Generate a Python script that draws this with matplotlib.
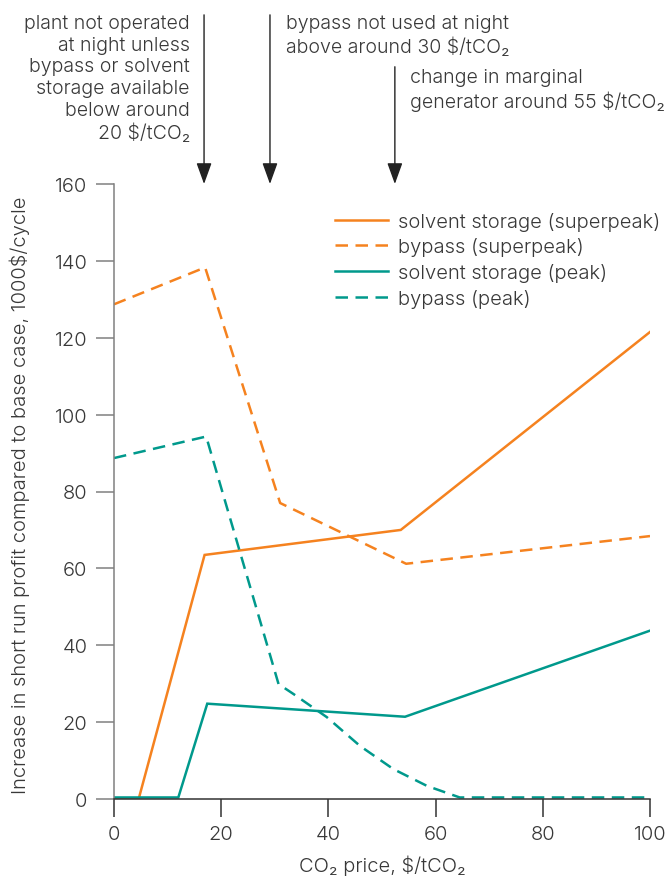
import matplotlib
matplotlib.use("Agg")
import matplotlib.pyplot as plt
from matplotlib import font_manager

# Data: increase in short run profit vs CO2 price
co2_solvent_super = [0, 4.6, 16.9, 53.5, 100]
val_solvent_super = [0, 0, 63.5, 70.0, 121.5]

co2_bypass_super = [0, 17.0, 31.0, 54.5, 100]
val_bypass_super = [128.7, 138.3, 77.0, 61.2, 68.4]

co2_solvent_peak = [0, 12.0, 17.4, 54.3, 100]
val_solvent_peak = [0.4, 0.4, 24.8, 21.4, 43.8]

co2_bypass_peak = [0, 17.2, 30.7, 33.5, 39.7, 45.9, 52.1, 58.4, 64.5, 100]
val_bypass_peak = [88.7, 94.3, 29.9, 27.3, 21.3, 13.8, 7.8, 3.4, 0.4, 0.4]

x_ticks = [0, 20, 40, 60, 80, 100]
y_ticks = [0, 20, 40, 60, 80, 100, 120, 140, 160]

arrow_x = [16.8, 29.1, 52.4]
arrow_tail_y = [204.0, 204.0, 190.5]

ORANGE = "#F5821F"
TEAL = "#00998C"
TXT = "#383838"
FS = 14.5
FS_NOTE = 14.1

available = {f.name for f in font_manager.fontManager.ttflist}
base_font = "Inter" if "Inter" in available else "DejaVu Sans"
plt.rcParams["font.family"] = [base_font, "DejaVu Sans"]
plt.rcParams["font.weight"] = 300

fig = plt.figure(figsize=(6.7, 8.79), dpi=100)
ax = fig.add_axes([114 / 670, 1 - 800 / 879, 536 / 670, 615 / 879])

lw = 1.8
dash = (5.0, 3.0)
ax.plot(co2_solvent_super, val_solvent_super, color=ORANGE, lw=lw,
        label="solvent storage (superpeak)", solid_joinstyle="miter")
ax.plot(co2_bypass_super, val_bypass_super, color=ORANGE, lw=lw,
        dashes=dash, label="bypass (superpeak)")
ax.plot(co2_solvent_peak, val_solvent_peak, color=TEAL, lw=lw,
        label="solvent storage (peak)", solid_joinstyle="miter")
ax.plot(co2_bypass_peak, val_bypass_peak, color=TEAL, lw=lw,
        dashes=dash, label="bypass (peak)")

ax.set_xlim(0, 100)
ax.set_ylim(0, 160)
ax.set_xticks(x_ticks)
ax.set_yticks(y_ticks)
ax.spines["top"].set_visible(False)
ax.spines["right"].set_visible(False)
ax.spines["left"].set_color("#808080")
ax.spines["bottom"].set_color("#333333")
ax.spines["left"].set_linewidth(1.1)
ax.spines["bottom"].set_linewidth(1.1)
ax.tick_params(axis="x", direction="out", length=13, width=1.1,
               color="#333333", labelsize=FS, labelcolor=TXT, pad=6)
ax.tick_params(axis="y", direction="out", length=13, width=1.1,
               color="#808080", labelsize=FS, labelcolor=TXT, pad=6)
for lab in ax.get_xticklabels() + ax.get_yticklabels():
    lab.set_fontweight(300)

ax.set_xlabel("CO₂ price, $/tCO₂", fontsize=FS, color=TXT,
              fontweight=300, labelpad=8)
ax.set_ylabel("Increase in short run profit compared to base case, 1000$/cycle",
              fontsize=FS, color=TXT, fontweight=300)
ax.yaxis.set_label_coords((30 - 114) / 536, 0.496)

leg = ax.legend(loc="upper left", bbox_to_anchor=(0.413, 0.955), frameon=False,
                prop={"size": FS, "weight": 300}, handlelength=2.63,
                handletextpad=0.5, labelspacing=0.33, borderpad=0,
                borderaxespad=0)
for t in leg.get_texts():
    t.set_color(TXT)

for x, ty in zip(arrow_x, arrow_tail_y):
    ax.annotate("", xy=(x, 160), xytext=(x, ty), annotation_clip=False,
                arrowprops=dict(arrowstyle="-|>,head_length=1.3,head_width=0.47",
                                mutation_scale=10, color="#222222", lw=1.0,
                                shrinkA=0, shrinkB=0))

note_kw = dict(fontsize=FS_NOTE, color=TXT, fontweight=300, linespacing=1.26, va="top")
fig.text(190 / 670, 1 - 15 / 879,
         "plant not operated\nat night unless\nbypass or solvent\nstorage available\nbelow around\n20 $/tCO₂",
         ha="right", **note_kw)
fig.text(286 / 670, 1 - 15 / 879,
         "bypass not used at night\nabove around 30 $/tCO₂",
         ha="left", **note_kw)
fig.text(410 / 670, 1 - 69 / 879,
         "change in marginal\ngenerator around 55 $/tCO₂",
         ha="left", **note_kw)

fig.savefig("out.png", dpi=100)
